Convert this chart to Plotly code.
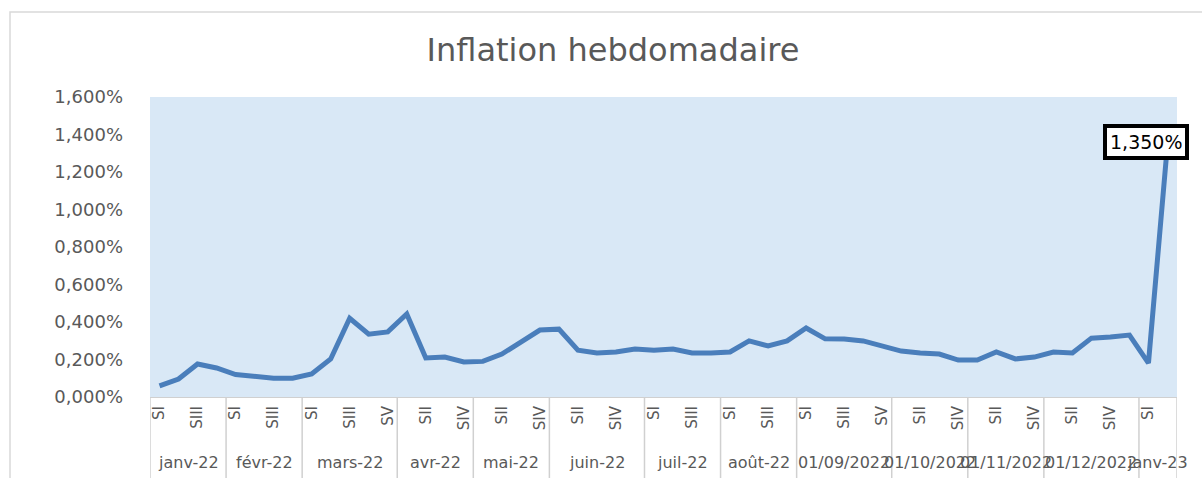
import plotly.graph_objects as go

# ---- data ----
months = ["janv-22", "févr-22", "mars-22", "avr-22", "mai-22", "juin-22", "juil-22",
          "août-22", "01/09/2022", "01/10/2022", "01/11/2022", "01/12/2022", "janv-23"]
weeks = [
    ["SI", "SII", "SIII", "SIV"],
    ["SI", "SII", "SIII", "SIV"],
    ["SI", "SII", "SIII", "SIV", "SV"],
    ["SI", "SII", "SIII", "SIV"],
    ["SI", "SII", "SIII", "SIV"],
    ["SI", "SII", "SIII", "SIV", "SV"],
    ["SI", "SII", "SIII", "SIV"],
    ["SI", "SII", "SIII", "SIV"],
    ["SI", "SII", "SIII", "SIV", "SV"],
    ["SI", "SII", "SIII", "SIV"],
    ["SI", "SII", "SIII", "SIV"],
    ["SI", "SII", "SIII", "SIV", "SV"],
    ["SI", "SII"],
]
# weekly inflation, in %
inflation = [
    0.059, 0.096, 0.176, 0.155,
    0.120, 0.107, 0.100, 0.100,
    0.123, 0.203, 0.420, 0.335, 0.347,
    0.443, 0.208, 0.213, 0.187,
    0.190, 0.229, 0.293, 0.357,
    0.362, 0.250, 0.235, 0.240, 0.256,
    0.250, 0.256, 0.235, 0.235,
    0.240, 0.299, 0.272, 0.299,
    0.368, 0.310, 0.309, 0.299, 0.272,
    0.245, 0.235, 0.229, 0.197,
    0.197, 0.240, 0.203, 0.213,
    0.240, 0.235, 0.314, 0.320, 0.330,
    0.181, 1.350,
]
y_ticks = [0, 0.2, 0.4, 0.6, 0.8, 1.0, 1.2, 1.4, 1.6]


def fr_pct(v):
    return f"{v:.3f}".replace(".", ",") + "%"


# ---- derived category positions ----
week_labels = [w for group in weeks for w in group]
idx = list(range(len(week_labels)))
bounds = [0]
for g in weeks:
    bounds.append(bounds[-1] + len(g))

# ---- pixel layout helpers ----
W, H = 1202, 478
L, R, T, B = 150, 1177, 97, 397
pw, ph = R - L, B - T


def px(x):
    return (x - L) / pw


def py(y):
    return (B - y) / ph


grey = "#595959"
fig = go.Figure()
fig.add_trace(go.Scatter(
    x=idx, y=inflation, mode="lines",
    line=dict(color="#4A7EBB", width=5),
    hoverinfo="skip", showlegend=False,
))

annotations = []
shapes = []
for k, m in enumerate(months):
    center = (bounds[k] + bounds[k + 1]) / 2 - 0.5
    annotations.append(dict(
        x=center, y=py(462), xref="x", yref="paper", text=m, showarrow=False,
        xanchor="center", yanchor="middle",
        font=dict(family="DejaVu Sans", size=16, color=grey),
    ))
for b in bounds:
    shapes.append(dict(
        type="line", xref="x", yref="paper", x0=b - 0.5, x1=b - 0.5,
        y0=0, y1=py(490), line=dict(color="#d0d0d0", width=1.5), layer="above",
    ))
# outer chart frame
shapes.append(dict(
    type="rect", xref="paper", yref="paper",
    x0=px(10), x1=px(1230), y0=py(500), y1=py(12),
    line=dict(color="#d9d9d9", width=1.5), fillcolor="rgba(0,0,0,0)", layer="below",
))

# data label for last point
last = len(inflation) - 1
annotations.append(dict(
    x=last, y=inflation[last], xref="x", yref="y",
    text=fr_pct(inflation[last]),
    showarrow=False, xanchor="left", yanchor="middle", xshift=-64, yshift=2,
    font=dict(family="DejaVu Sans", size=19, color="#000000"),
    bgcolor="#ffffff", bordercolor="#000000", borderwidth=4, borderpad=3,
))

fig.update_layout(
    width=W, height=H,
    margin=dict(l=L, r=W - R, t=T, b=H - B),
    paper_bgcolor="#ffffff",
    plot_bgcolor="#d9e8f6",
    title=dict(
        text="Inflation hebdomadaire", x=613 / W, xref="container",
        y=1 - 50 / H, yref="container", xanchor="center", yanchor="middle",
        font=dict(family="DejaVu Sans", size=32, color=grey),
    ),
    xaxis=dict(
        range=[-0.5, len(idx) - 0.5], showgrid=False, zeroline=False,
        tickmode="array", tickvals=idx[::2], ticktext=week_labels[::2],
        tickangle=-90, ticks="", ticklabelstandoff=2,
        tickfont=dict(family="DejaVu Sans", size=15, color=grey),
        showline=True, linecolor="#d0d0d0", linewidth=1,
    ),
    yaxis=dict(
        range=[0, 1.6], showgrid=False, zeroline=False,
        tickmode="array", tickvals=y_ticks, ticktext=[fr_pct(v) for v in y_ticks],
        tickfont=dict(family="DejaVu Sans", size=18, color=grey),
        ticks="", ticklabelstandoff=26,
    ),
    annotations=annotations,
    shapes=shapes,
)

fig.write_html(
    "out.html",
    config={"displayModeBar": False},
    post_script="document.body.style.margin='0';document.body.style.overflow='hidden';",
)
